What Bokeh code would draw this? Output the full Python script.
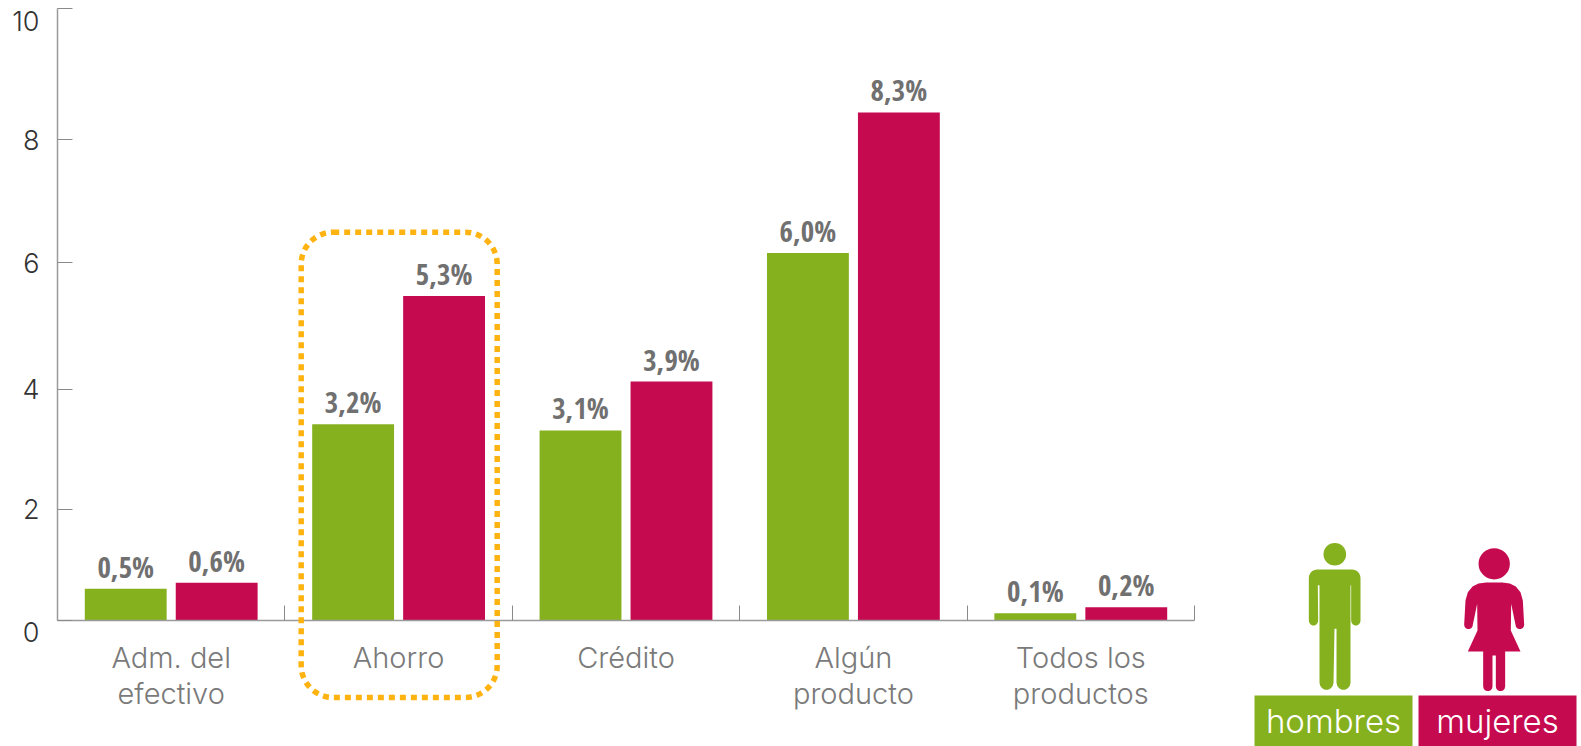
import numpy as np
from bokeh.plotting import figure
from bokeh.models import Range1d, LinearAxis, FixedTicker, BoxAnnotation
from bokeh.core.properties import value
from bokeh.embed import file_html
from bokeh.resources import INLINE

categories = ["Adm. del\nefectivo", "Ahorro", "Crédito", "Algún\nproducto", "Todos los\nproductos"]
hombres = [0.51, 3.2, 3.1, 6.0, 0.11]
mujeres = [0.61, 5.3, 3.9, 8.3, 0.21]
labels_h = ["0,5%", "3,2%", "3,1%", "6,0%", "0,1%"]
labels_m = ["0,6%", "5,3%", "3,9%", "8,3%", "0,2%"]
y_tick_labels = ["0", "2", "4", "6", "8", "10"]
y_label_pos = [-0.2, 1.81, 3.77, 5.84, 7.85, 9.8]
y_tick_pos = [0, 1.81, 3.77, 5.85, 7.85, 10]

GREEN = "#86B11E"
RED = "#C60A50"
ORANGE = "#FFB310"
W, H = 1581, 746
X0, Y0 = 57, 619.5
GW, UY = 227.4, 61.15

p = figure(width=W, height=H, output_backend="svg", toolbar_location=None,
           x_range=Range1d(-X0 / GW, (W - X0) / GW),
           y_range=Range1d((Y0 - H) / UY, Y0 / UY),
           min_border=0, outline_line_color=None, x_axis_type=None, y_axis_type=None)
p.grid.visible = False
p.extra_x_ranges = {"px": Range1d(0, W)}
p.extra_y_ranges = {"px": Range1d(H, 0)}

xs = np.arange(5) + 0.5
p.vbar(x=xs - 0.2, top=hombres, width=0.36, color=GREEN, line_color=None)
p.vbar(x=xs + 0.2, top=mujeres, width=0.36, color=RED, line_color=None)

BAR_FONT = value("Open Sans Condensed")
p.text(x=xs - 0.2, y=hombres, text=labels_h, text_font=BAR_FONT, text_font_style="bold",
       text_font_size="29px", text_color="#707070", text_align="center", text_baseline="bottom", y_offset=-3)
p.text(x=xs + 0.2, y=mujeres, text=labels_m, text_font=BAR_FONT, text_font_style="bold",
       text_font_size="29px", text_color="#707070", text_align="center", text_baseline="bottom", y_offset=-3)

LIGHT = "Inter Light"
xax = LinearAxis(fixed_location=0, bounds=(0, 5),
                 ticker=FixedTicker(ticks=list(xs), minor_ticks=[0, 1, 2, 3, 4, 5]),
                 major_label_overrides={float(x): c for x, c in zip(xs, categories)},
                 axis_line_color="#9a9a9a", axis_line_width=1.5,
                 major_tick_line_color=None, minor_tick_line_color="#8a8a8a",
                 minor_tick_in=15, minor_tick_out=0, major_tick_in=0, major_tick_out=0,
                 major_label_standoff=20,
                 major_label_text_font=LIGHT, major_label_text_font_size="29px",
                 major_label_text_line_height=1.02,
                 major_label_text_color="#7a7a7a")
p.add_layout(xax, "below")

yax_line = LinearAxis(fixed_location=0, bounds=(0, 10),
                      ticker=FixedTicker(ticks=y_tick_pos),
                      major_label_text_color=None, major_label_text_font_size="1px",
                      axis_line_color="#9a9a9a", axis_line_width=1.5,
                      major_tick_line_color="#8a8a8a", major_tick_in=15, major_tick_out=0,
                      minor_tick_line_color=None)
p.add_layout(yax_line, "left")

yax_lab = LinearAxis(fixed_location=0,
                     ticker=FixedTicker(ticks=y_label_pos),
                     major_label_overrides={float(v): t for v, t in zip(y_label_pos, y_tick_labels)},
                     axis_line_color=None, major_tick_line_color=None, minor_tick_line_color=None,
                     major_tick_in=0, major_tick_out=0, major_label_standoff=18,
                     major_label_text_font=LIGHT, major_label_text_font_size="27px",
                     major_label_text_color="#333333")
p.add_layout(yax_lab, "left")

box = BoxAnnotation(left=300.7, right=496.7, top=231.7, bottom=697,
                    x_range_name="px", y_range_name="px",
                    fill_color=None, line_color=ORANGE, line_alpha=1, line_width=5.5, line_dash="6 5",
                    border_radius=32, level="overlay")
p.add_layout(box)


def arc(cx, cy, r, a0, a1, n=10):
    t = np.radians(np.linspace(a0, a1, n))
    return list(zip(cx + r * np.cos(t), cy + r * np.sin(t)))


def zoomed(pts):
    return [1230 + a / 3 for a, _ in pts], [520 + b / 3 for _, b in pts]


man = (arc(260, 172, 25, 180, 270, 6) + arc(365, 172, 25, 270, 360, 6)
       + arc(376, 301, 14, 0, 180, 8) + [(362, 194), (360, 194), (360, 487)]
       + arc(339, 487, 21, 0, 180, 8) + [(318, 325), (312, 325)]
       + arc(288, 487, 21, 0, 180, 8) + [(267, 194), (262, 194)]
       + arc(249, 301, 14, 0, 180, 8))

woman_half = ([(791, 186), (815, 186), (838, 189), (856, 198), (870, 215), (877, 240), (881, 313)]
              + arc(868, 313, 13, 0, 180, 8)
              + [(842, 250), (841, 330), (870, 393), (824, 393)]
              + arc(810, 498, 14, 0, 180, 8) + [(796, 405), (791, 405)])
woman = woman_half + [(1582 - a, b) for a, b in reversed(woman_half[1:-1])]

mx, my = zoomed(man)
wx, wy = zoomed(woman)
p.patch(mx, my, color=GREEN, line_color=None, x_range_name="px", y_range_name="px")
p.patch(wx, wy, color=RED, line_color=None, x_range_name="px", y_range_name="px")
p.scatter([1334.3], [553.7], size=22.6, color=GREEN, line_color=None, x_range_name="px", y_range_name="px")
p.scatter([1493.7], [563.3], size=31.3, color=RED, line_color=None, x_range_name="px", y_range_name="px")

p.quad(left=[1254, 1418], right=[1412, 1576], top=[695, 695], bottom=[746, 746],
       color=[GREEN, RED], line_color=None, x_range_name="px", y_range_name="px")
p.text(x=[1333, 1497], y=[720, 720], text=["hombres", "mujeres"], text_color="white",
       text_font=value(LIGHT), text_font_size="33px", text_align="center", text_baseline="middle",
       x_range_name="px", y_range_name="px")

open("out.html", "w").write(file_html(p, INLINE))
